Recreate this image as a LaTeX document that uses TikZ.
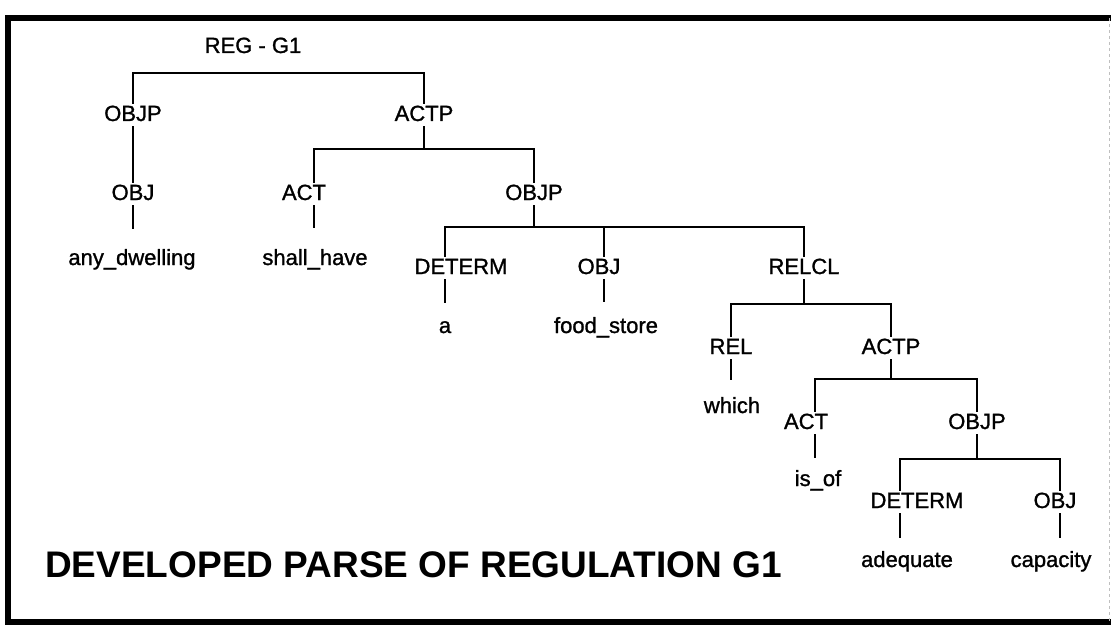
\documentclass[tikz,border=0pt]{standalone}
\usepackage{fontspec}
\setmainfont{Liberation Sans}
\newfontfamily\lblfont[FakeBold=1.2]{Liberation Sans}

\begin{document}
\begin{tikzpicture}[x=1pt, y=-1pt,
        lbl/.style={inner xsep=3pt,inner ysep=1pt,anchor=base,font=\lblfont\fontsize{22}{26}\selectfont,
          text height=16pt,text depth=4pt},
        edge/.style={draw=black,line width=1.7pt},
        frame/.style={draw=black,line width=6pt}]
        \useasboundingbox (0,0) rectangle (1111,626);
        \draw[frame] (1111,18) -| (8,622) -- (1111,622);
        \draw[gray!50,line width=1pt,dashed] (1109.5,18) -- (1109.5,622);
        \node[lbl] (regg) at (253,53) {REG - G1};
        \node[lbl] (objpa) at (133,121) {OBJP};
        \node[lbl] (actpa) at (424,121) {ACTP};
        \node[lbl] (obja) at (133,200) {OBJ};
        \node[lbl] (acta) at (304,200) {ACT};
        \node[lbl] (objpb) at (534,200) {OBJP};
        \node[lbl] (dwell) at (132,265) {any\_dwelling};
        \node[lbl] (shall) at (315,265) {shall\_have};
        \node[lbl] (determa) at (461,274) {DETERM};
        \node[lbl] (objb) at (599,274) {OBJ};
        \node[lbl] (relcl) at (804,274) {RELCL};
        \node[lbl] (arta) at (445,333) {a};
        \node[lbl] (food) at (606,333) {food\_store};
        \node[lbl] (rel) at (731,354) {REL};
        \node[lbl] (actpb) at (891,354) {ACTP};
        \node[lbl] (which) at (732,413) {which};
        \node[lbl] (actb) at (806,429) {ACT};
        \node[lbl] (objpc) at (977,429) {OBJP};
        \node[lbl] (isof) at (818,486) {is\_of};
        \node[lbl] (determb) at (917,508) {DETERM};
        \node[lbl] (objc) at (1055,508) {OBJ};
        \node[lbl] (adeq) at (907,567) {adequate};
        \node[lbl] (capac) at (1051,567) {capacity};
        \node[anchor=base west,inner sep=0pt,font=\bfseries\fontsize{37}{44}\selectfont] (title) at (45,577)
          {DEVELOPED PARSE OF REGULATION G1};
        \draw[edge] (objpa.north) -- ++(0,-31) -| (actpa.north);
        \draw[edge] (objpa.south) -- (obja.north);
        \draw[edge] (actpa.south) -- ++(0,23) -| ([xshift=10pt]acta.north);
        \draw[edge] (actpa.south) -- ++(0,23) -| (objpb.north);
        \draw[edge] (objpb.south) -- ++(0,22) -| ([xshift=-16pt]determa.north);
        \draw[edge] (objpb.south) -- ++(0,22) -| ([xshift=5pt]objb.north);
        \draw[edge] (objpb.south) -- ++(0,22) -| (relcl.north);
        \draw[edge] (relcl.south) -- ++(0,25) -| (rel.north);
        \draw[edge] (relcl.south) -- ++(0,25) -| (actpb.north);
        \draw[edge] (actpb.south) -- ++(0,20) -| ([xshift=9pt]actb.north);
        \draw[edge] (actpb.south) -- ++(0,20) -| (objpc.north);
        \draw[edge] (objpc.south) -- ++(0,25) -| ([xshift=-17pt]determb.north);
        \draw[edge] (objpc.south) -- ++(0,25) -| ([xshift=5pt]objc.north);
        \draw[edge,shorten >=19pt] (obja.south) -- ([xshift=1pt]dwell.north);
        \draw[edge,shorten >=20pt] ([xshift=10pt]acta.south) -- ([xshift=-1pt]shall.north);
        \draw[edge,shorten >=13pt] ([xshift=-16pt]determa.south) -- (arta.north);
        \draw[edge,shorten >=14pt] ([xshift=5pt]objb.south) -- ([xshift=-2pt]food.north);
        \draw[edge,shorten >=16pt] (rel.south) -- ([xshift=-1pt]which.north);
        \draw[edge,shorten >=11pt] ([xshift=9pt]actb.south) -- ([xshift=-3pt]isof.north);
        \draw[edge,shorten >=12pt] ([xshift=-17pt]determb.south) -- ([xshift=-7pt]adeq.north);
        \draw[edge,shorten >=12pt] ([xshift=5pt]objc.south) -- ([xshift=9pt]capac.north);
      \end{tikzpicture}
\end{document}
